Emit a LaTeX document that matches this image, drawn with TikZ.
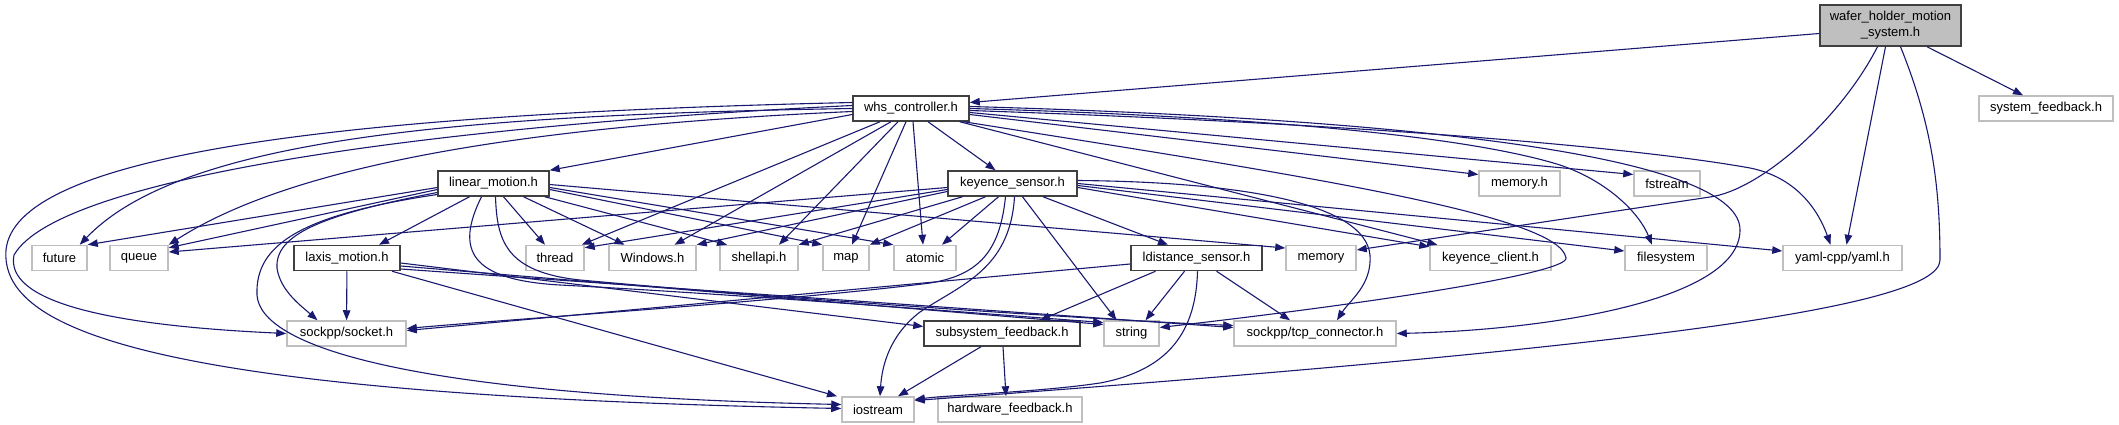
\documentclass[tikz,border=0pt]{standalone}
\usepackage{fontspec}
\setmainfont{Liberation Sans}
\usepackage{xcolor}
\definecolor{edgeblue}{HTML}{191970}
\definecolor{boxgray}{HTML}{BFBFBF}
\definecolor{boxdark}{HTML}{404040}
\usetikzlibrary{arrows.meta}

\begin{document}
\begin{tikzpicture}[
      %% One unit is one pixel of the graph, y grows downwards
      x=1pt, y=-1pt,
      %% Headers of the project (dark frame)
      hdr/.style={rectangle, draw=boxdark, line width=1.5pt, fill=white,
                  minimum height=25pt, inner sep=0pt,
                  font=\fontsize{13}{16}\selectfont},
      %% System and library headers (light frame)
      sys/.style={rectangle, draw=boxgray, line width=1.5pt, fill=white,
                  minimum height=25pt, inner sep=0pt,
                  font=\fontsize{13}{16}\selectfont},
      arr/.style={-{Triangle[length=10pt, width=7.5pt]}, draw=edgeblue,
                  line width=1.1pt},
    ]
    \useasboundingbox (0,0) rectangle (2119,425);

    %% ── Top: the file itself ───────────────────────────────────────────────
    \node[hdr, fill=boxgray, minimum width=141pt, minimum height=41pt,
          align=center] (wafer) at (1890.5,25.5)
      {wafer\_holder\_motion\\\_system.h};

    %% ── Second row ──────────────────────────────────────────────────────────
    \node[hdr, minimum width=116pt] (whsctrl) at (911,108.5)  {whs\_controller.h};
    \node[sys, minimum width=134pt] (sysfb)   at (2046,108.5) {system\_feedback.h};

    %% ── Third row ───────────────────────────────────────────────────────────
    \node[hdr, minimum width=111pt] (linmot)  at (493.5,183.5)  {linear\_motion.h};
    \node[hdr, minimum width=129pt] (keysens) at (1012.5,183.5) {keyence\_sensor.h};
    \node[sys, minimum width=81pt]  (memh)    at (1519.5,183.5) {memory.h};
    \node[sys, minimum width=66pt]  (fstrm)   at (1667,183.5)   {fstream};

    %% ── Fourth row ──────────────────────────────────────────────────────────
    \node[sys, minimum width=55pt]  (future)   at (59.5,258)   {future};
    \node[sys, minimum width=58pt]  (queue)    at (139,258)    {queue};
    \node[hdr, minimum width=106pt] (laxis)    at (347,258)    {laxis\_motion.h};
    \node[sys, minimum width=58pt]  (thread)   at (555,258)    {thread};
    \node[sys, minimum width=87pt]  (winh)     at (652.5,258)  {Windows.h};
    \node[sys, minimum width=78pt]  (shellapi) at (759,258)    {shellapi.h};
    \node[sys, minimum width=46pt]  (map)      at (846,258)    {map};
    \node[sys, minimum width=62pt]  (atomic)   at (925,258)    {atomic};
    \node[hdr, minimum width=131pt] (ldist)    at (1196.5,258) {ldistance\_sensor.h};
    \node[sys, minimum width=70pt]  (memory)   at (1321,258)   {memory};
    \node[sys, minimum width=121pt] (kclient)  at (1490.5,258) {keyence\_client.h};
    \node[sys, minimum width=82pt]  (filesys)  at (1666,258)   {filesystem};
    \node[sys, minimum width=119pt] (yaml)     at (1842.5,258) {yaml-cpp/yaml.h};

    %% ── Fifth row ───────────────────────────────────────────────────────────
    \node[sys, minimum width=119pt] (socket)  at (346.5,333.5) {sockpp/socket.h};
    \node[hdr, minimum width=156pt] (subfb)   at (1002,333.5)  {subsystem\_feedback.h};
    \node[sys, minimum width=55pt]  (string)  at (1131.5,333.5) {string};
    \node[sys, minimum width=162pt] (tcpconn) at (1315,333.5)  {sockpp/tcp\_connector.h};

    %% ── Bottom row ──────────────────────────────────────────────────────────
    \node[sys, minimum width=72pt]  (iostream) at (878,409.5)  {iostream};
    \node[sys, minimum width=144pt] (hwfb)     at (1010,409.5) {hardware\_feedback.h};

    %% ── wafer_holder_motion_system.h ────────────────────────────────────────
    \draw[arr] ([yshift=-8]wafer.west) -- ([yshift=6]whsctrl.east);
    \draw[arr] ([xshift=36.5]wafer.south) -- ([xshift=-23]sysfb.north);
    \draw[arr] ([xshift=-5]wafer.south) -- ([xshift=4]yaml.north);
    \draw[arr] ([xshift=-13]wafer.south) .. controls (1840,120) and (1760,190)
      .. (1710,197) -- ([yshift=8]memory.east);
    \draw[arr] ([xshift=10]wafer.south) .. controls (1930,120) and (1940,180)
      .. (1940,260) .. controls (1940,310) and (1600,350)
      .. ([yshift=9]iostream.east);

    %% ── whs_controller.h ────────────────────────────────────────────────────
    \draw[arr] ([yshift=-6]whsctrl.west) -- (linmot.north east);
    \draw[arr] (whsctrl.west) .. controls (450,115) and (180,140)
      .. ([xshift=-8]future.north east);
    \draw[arr] ([yshift=-3]whsctrl.west) .. controls (550,125) and (300,160)
      .. (queue.north east);
    \draw[arr] ([yshift=3]whsctrl.west) .. controls (450,125) and (60,175)
      .. (14,255) .. controls (5,300) and (100,325) .. (socket.west);
    \draw[arr] ([yshift=6]whsctrl.west) .. controls (300,115) and (15,160)
      .. (6,250) .. controls (0,330) and (150,395) .. ([yshift=1]iostream.west);
    \draw[arr] ([xshift=-31]whsctrl.south) -- ([xshift=-3]thread.north east);
    \draw[arr] ([xshift=-20]whsctrl.south) -- ([xshift=22]winh.north);
    \draw[arr] ([xshift=-13]whsctrl.south) -- ([xshift=20]shellapi.north);
    \draw[arr] ([xshift=-5]whsctrl.south) -- ([xshift=6]map.north);
    \draw[arr] ([xshift=2]whsctrl.south) -- ([xshift=-2]atomic.north);
    \draw[arr] ([xshift=17]whsctrl.south) -- ([xshift=-17]keysens.north);
    \draw[arr] ([yshift=-6]whsctrl.east) -- ([yshift=9]memh.west);
    \draw[arr] ([yshift=-4]whsctrl.east) -- ([yshift=9]fstrm.west);
    \draw[arr] (whsctrl.east) .. controls (1300,118) and (1480,140)
      .. (1560,165) .. controls (1610,182) and (1640,215)
      .. ([xshift=-14]filesys.north);
    \draw[arr] ([yshift=-2]whsctrl.east) .. controls (1400,125) and (1650,150)
      .. (1750,168) .. controls (1800,178) and (1820,215)
      .. ([xshift=-12]yaml.north);
    \draw[arr] ([yshift=2]whsctrl.east) .. controls (1450,120) and (1740,160)
      .. (1740,230) .. controls (1740,300) and (1550,330) .. (tcpconn.east);
    \draw[arr] ([xshift=-10]whsctrl.south east) -- ([xshift=8]kclient.north west);
    \draw[arr] ([xshift=-6]whsctrl.south east) .. controls (1300,175) and (1560,215)
      .. (1566,258) .. controls (1568,272) and (1400,300)
      .. ([yshift=6]string.east);

    %% ── linear_motion.h ─────────────────────────────────────────────────────
    \draw[arr] ([xshift=-24]linmot.south) -- ([xshift=32]laxis.north);
    \draw[arr] ([xshift=10]linmot.south) -- ([xshift=-10]thread.north);
    \draw[arr] ([xshift=30]linmot.south) -- ([xshift=-28]winh.north);
    \draw[arr] ([xshift=-5]linmot.south east) -- ([xshift=-32]shellapi.north);
    \draw[arr] ([yshift=-6]linmot.east) -- (map.north west);
    \draw[arr] ([yshift=-4]linmot.east) -- (atomic.north west);
    \draw[arr] ([yshift=-1]linmot.east) -- ([yshift=10]memory.west);
    \draw[arr] ([yshift=-4]linmot.west) -- (future.north east);
    \draw[arr] ([yshift=-6]linmot.west) -- ([yshift=-3]queue.north east);
    \draw[arr] ([yshift=-9]linmot.west) .. controls (320,215) and (275,235)
      .. (277,268) .. controls (280,290) and (300,305)
      .. ([xshift=-29]socket.north);
    \draw[arr] ([yshift=-11]linmot.west) .. controls (300,215) and (255,245)
      .. (257,295) .. controls (260,345) and (400,395)
      .. ([yshift=5]iostream.west);
    \draw[arr] ([xshift=-12]linmot.south) .. controls (455,250) and (470,280)
      .. (560,285) .. controls (750,295) and (1000,315)
      .. ([yshift=11]string.west);
    \draw[arr] ([xshift=2]linmot.south) .. controls (497,240) and (505,272)
      .. (580,280) .. controls (800,300) and (1100,320)
      .. ([yshift=8]tcpconn.west);

    %% ── keyence_sensor.h ────────────────────────────────────────────────────
    \draw[arr] ([xshift=30.5]keysens.south) -- ([xshift=-28.5]ldist.north);
    \draw[arr] ([xshift=10]keysens.south) -- ([xshift=-15]string.north);
    \draw[arr] ([xshift=2]keysens.south) .. controls (1010,270) and (960,285)
      .. (920,312) .. controls (890,335) and (882,365)
      .. ([xshift=2]iostream.north);
    \draw[arr] ([xshift=-7]keysens.south) .. controls (1000,250) and (980,275)
      .. (930,283) .. controls (800,300) and (500,320)
      .. ([yshift=5]socket.east);
    \draw[arr] ([xshift=-14]keysens.south) -- ([xshift=17]atomic.north);
    \draw[arr] ([xshift=-27]keysens.south) -- (map.north east);
    \draw[arr] ([xshift=-50]keysens.south) -- (shellapi.north east);
    \draw[arr] ([yshift=-8]keysens.west) -- (winh.north east);
    \draw[arr] ([yshift=-6]keysens.west) -- ([yshift=-3]thread.north east);
    \draw[arr] ([yshift=-4]keysens.west) -- ([yshift=6]queue.east);
    \draw[arr] ([yshift=-4]keysens.east) -- ([yshift=-2]kclient.north west);
    \draw[arr] ([yshift=-2]keysens.east) -- ([yshift=7]filesys.west);
    \draw[arr] (keysens.east) -- ([yshift=7]yaml.west);
    \draw[arr] ([yshift=3]keysens.east) .. controls (1250,182) and (1365,205)
      .. (1370,255) .. controls (1372,285) and (1350,300)
      .. ([xshift=22]tcpconn.north);

    %% ── laxis_motion.h ──────────────────────────────────────────────────────
    \draw[arr] (laxis) -- (socket);
    \draw[arr] ([xshift=45]laxis.south) -- ([xshift=-41]iostream.north);
    \draw[arr] ([yshift=-5]laxis.east) -- ([yshift=7]subfb.west);
    \draw[arr] ([yshift=-8]laxis.east) -- ([yshift=9]string.west);
    \draw[arr] ([yshift=-11]laxis.east) -- ([yshift=6]tcpconn.west);

    %% ── ldistance_sensor.h ──────────────────────────────────────────────────
    \draw[arr] ([yshift=-6]ldist.west) -- ([yshift=3]socket.east);
    \draw[arr] ([xshift=-41]ldist.south) -- ([xshift=38]subfb.north);
    \draw[arr] ([xshift=-12]ldist.south) -- ([xshift=14]string.north);
    \draw[arr] ([xshift=20]ldist.south) -- ([xshift=-25]tcpconn.north);
    \draw[arr] ([xshift=1]ldist.south) .. controls (1196,330) and (1170,370)
      .. (1100,383) .. controls (1040,392) and (950,395)
      .. ([yshift=10]iostream.east);

    %% ── subsystem_feedback.h ────────────────────────────────────────────────
    \draw[arr] ([xshift=-21]subfb.south) -- ([xshift=20]iostream.north);
    \draw[arr] ([xshift=1]subfb.south) -- ([xshift=-4]hwfb.north);
  \end{tikzpicture}
\end{document}
